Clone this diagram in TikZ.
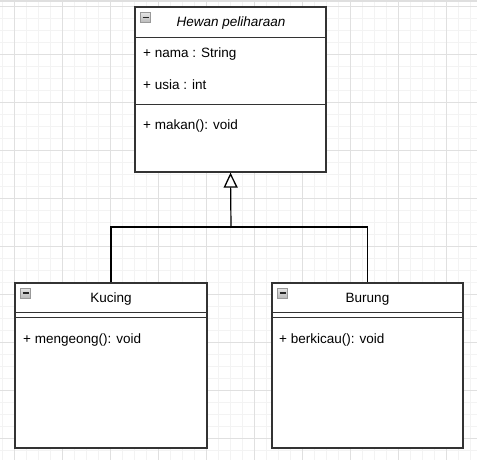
\documentclass[tikz,border=0pt]{standalone}
\usepackage{fontspec}
\setmainfont{Liberation Sans}
\usetikzlibrary{arrows.meta}
\definecolor{minorgrid}{HTML}{F3F3F3}
\definecolor{majorgrid}{HTML}{E0E0E0}
\definecolor{boxline}{HTML}{333333}
\begin{document}
\begin{tikzpicture}[x=1pt,y=-1pt,
  classbox/.style={draw=boxline, line width=1.3pt, fill=white, inner sep=0pt},
  sepline/.style={draw=boxline, line width=1.2pt},
  title/.style={font=\fontsize{13.5}{16}\selectfont, inner sep=0pt, anchor=center},
  member/.style={font=\fontsize{13.5}{16}\selectfont, inner sep=0pt, anchor=west},
  minusicon/.style={draw=gray!80, line width=0.6pt, top color=gray!20, bottom color=gray!55,
     minimum width=10pt, minimum height=10pt, inner sep=0pt,
     path picture={\draw[black!85, line width=1.3pt]
        ([xshift=2pt]path picture bounding box.west) -- ([xshift=-2pt]path picture bounding box.east);}},
  conn/.style={draw=black, line width=1.2pt},
  inherit/.style={conn, -{Triangle[open, length=15pt, width=14pt, line width=1.3pt, fill=white]}}
]
\useasboundingbox (0,0) rectangle (477,460);
\fill[white] (0,0) rectangle (477,460);
% grid
\foreach \i in {0,...,39} {
  \draw[minorgrid, line width=0.8pt] ({2.3+12*\i},0) -- ({2.3+12*\i},460);
  \draw[minorgrid, line width=0.8pt] (0,{6+12*\i}) -- (477,{6+12*\i});
}
\foreach \i in {0,...,9} {
  \draw[majorgrid, line width=0.8pt] ({14.3+48*\i},0) -- ({14.3+48*\i},460);
  \draw[majorgrid, line width=0.8pt] (0,{6+48*\i}) -- (477,{6+48*\i});
}
\draw[gray!25, line width=2pt] (0,1) -- (477,1);

% Hewan peliharaan
\node[classbox, minimum width=191pt, minimum height=165pt] (hewan) at (230.5,89.5) {};
\draw[sepline] ([yshift=-31pt]hewan.north west) -- ([yshift=-31pt]hewan.north east);
\draw[sepline] ([yshift=-98pt]hewan.north west) -- ([yshift=-98pt]hewan.north east);
\node[minusicon] (hewanicon) at (145.5,17.5) {};
\node[title] (hewantitle) at (231,23) {\itshape Hewan peliharaan};
\node[member] (nama) at (143,54) {+ nama : String};
\node[member] (usia) at (143,85) {+ usia : int};
\node[member] (makan) at (143,126) {+ makan(): void};

% Kucing
\node[classbox, minimum width=192pt, minimum height=165pt] (kucing) at (111,365.5) {};
\draw[sepline] ([yshift=-30pt]kucing.north west) -- ([yshift=-30pt]kucing.north east);
\draw[sepline] ([yshift=-35pt]kucing.north west) -- ([yshift=-35pt]kucing.north east);
\node[minusicon] (kucingicon) at (25.5,293) {};
\node[title] (kucingtitle) at (111,299) {Kucing};
\node[member] (mengeong) at (23,340) {+ mengeong(): void};

% Burung
\node[classbox, minimum width=191pt, minimum height=165pt] (burung) at (367.5,365.5) {};
\draw[sepline] ([yshift=-30pt]burung.north west) -- ([yshift=-30pt]burung.north east);
\draw[sepline] ([yshift=-35pt]burung.north west) -- ([yshift=-35pt]burung.north east);
\node[minusicon] (burungicon) at (282.5,293) {};
\node[title] (burungtitle) at (367.5,299) {Burung};
\node[member] (berkicau) at (279,340) {+ berkicau(): void};

% Inheritance connectors
\coordinate (join) at (231,227);
\draw[conn] (kucing.north) |- (join) -| (burung.north);
\draw[inherit] (join) -- (hewan.south);
\end{tikzpicture}
\end{document}
